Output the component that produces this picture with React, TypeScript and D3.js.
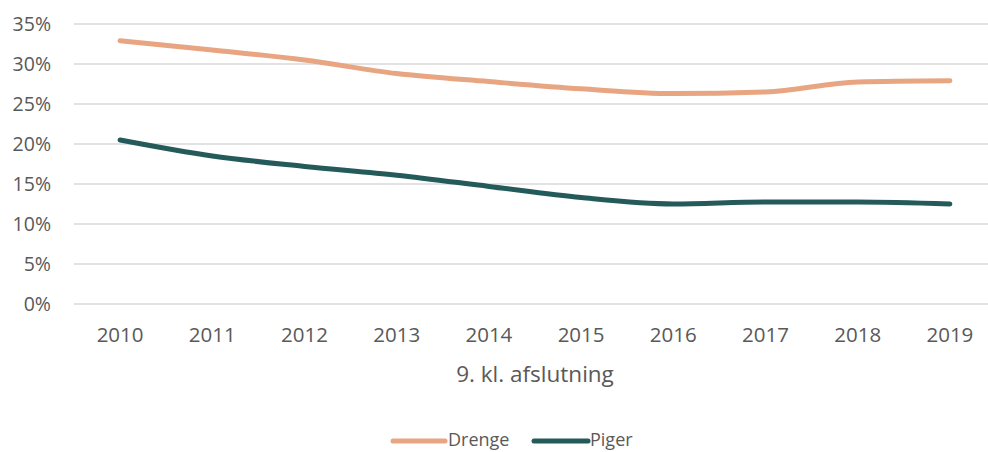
import React from 'react';
import * as d3 from 'd3';

// values
const years = ['2010', '2011', '2012', '2013', '2014', '2015', '2016', '2017', '2018', '2019'];
const drenge = [0.329, 0.3175, 0.305, 0.288, 0.278, 0.269, 0.263, 0.265, 0.2775, 0.279];
const piger = [0.205, 0.185, 0.172, 0.161, 0.147, 0.133, 0.125, 0.1275, 0.1275, 0.125];
const yTicks = [0, 0.05, 0.1, 0.15, 0.2, 0.25, 0.3, 0.35];
const xTitle = '9. kl. afslutning';

const series = [
  { name: 'Drenge', values: drenge, color: '#E8A582' },
  { name: 'Piger', values: piger, color: '#255A5A' },
];

const width = 988;
const height = 452;
const font = '"Open Sans", sans-serif';
const textColor = '#595959';

export default function App() {
  const x = d3.scalePoint<string>().domain(years).range([74, 996]).padding(0.5);
  const y = d3.scaleLinear().domain([0, 0.35]).range([304, 24]);

  const line = d3
    .line<number>()
    .x((_, i) => x(years[i]) as number)
    .y((d) => y(d))
    .curve(d3.curveMonotoneX);

  const fmt = d3.format('.0%');

  return (
    <svg
      width={width}
      height={height}
      style={{ position: 'absolute', left: 0, top: 0, background: '#fff' }}
      fontFamily={font}
    >
      {/* grid */}
      {yTicks.map((t) => (
        <g key={t}>
          <line x1={74} x2={996} y1={y(t)} y2={y(t)} stroke="#D9D9D9" strokeWidth={1.5} />
          <text x={51} y={y(t)} dy="0.36em" textAnchor="end" fontSize={19.5} fill={textColor}>
            {fmt(t)}
          </text>
        </g>
      ))}

      {/* x labels */}
      {years.map((yr) => (
        <text key={yr} x={x(yr)} y={342} textAnchor="middle" fontSize={20.5} fill={textColor}>
          {yr}
        </text>
      ))}
      <text x={535} y={382} textAnchor="middle" fontSize={22.5} fill={textColor}>
        {xTitle}
      </text>

      {/* lines */}
      {series.map((s) => (
        <path
          key={s.name}
          d={line(s.values) || ''}
          fill="none"
          stroke={s.color}
          strokeWidth={5}
          strokeLinecap="round"
          strokeLinejoin="round"
        />
      ))}

      {/* legend */}
      <g>
        <line x1={393} x2={445} y1={441} y2={441} stroke={series[0].color} strokeWidth={5} strokeLinecap="round" />
        <text x={448} y={446} fontSize={18} fill={textColor}>{series[0].name}</text>
        <line x1={534} x2={588} y1={441} y2={441} stroke={series[1].color} strokeWidth={5} strokeLinecap="round" />
        <text x={590} y={446} fontSize={18} fill={textColor}>{series[1].name}</text>
      </g>
    </svg>
  );
}
